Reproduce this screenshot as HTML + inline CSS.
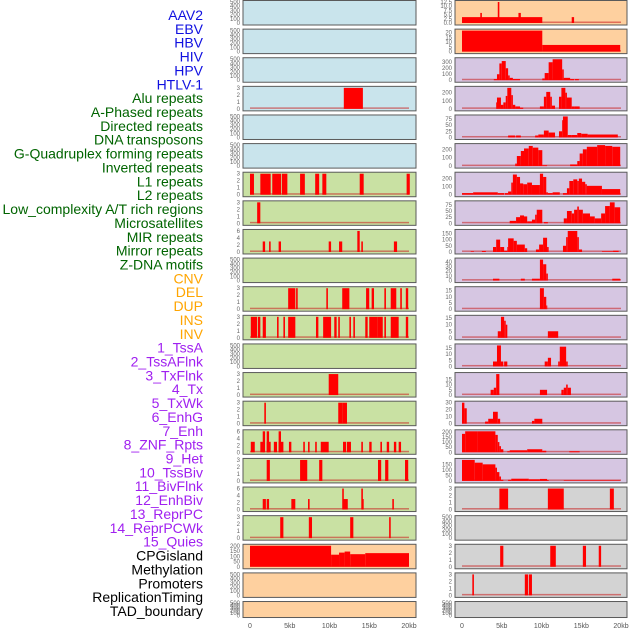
<!DOCTYPE html>
<html><head><meta charset="utf-8"><style>
body{margin:0;background:#fff;width:630px;height:630px;overflow:hidden;font-family:"Liberation Sans",sans-serif}
svg{position:absolute;left:0;top:0}
</style></head><body>
<svg id="chart" width="630" height="630" viewBox="0 0 630 630" xmlns="http://www.w3.org/2000/svg"></svg>
<script>
const trackLabels = ["AAV2","EBV","HBV","HIV","HPV","HTLV-1","Alu repeats","A-Phased repeats","Directed repeats","DNA transposons","G-Quadruplex forming repeats","Inverted repeats","L1 repeats","L2 repeats","Low_complexity A/T rich regions","Microsatellites","MIR repeats","Mirror repeats","Z-DNA motifs","CNV","DEL","DUP","INS","INV","1_TssA","2_TssAFlnk","3_TxFlnk","4_Tx","5_TxWk","6_EnhG","7_Enh","8_ZNF_Rpts","9_Het","10_TssBiv","11_BivFlnk","12_EnhBiv","13_ReprPC","14_ReprPCWk","15_Quies","CPGisland","Methylation","Promoters","ReplicationTiming","TAD_boundary"];
const labelGroups = [6,13,5,15,5];
const groupColors = ["#1010e0","#006400","#ffa500","#a020f0","#000000"];
const xTickValues = [0,5,10,15,20];
const xTickLabels = ["0","5kb","10kb","15kb","20kb"];
const leftBg = ["b","b","b","b","b","b","g","g","g","g","g","g","g","g","g","g","g","g","g","p","p","p"];
const rightBg = ["p","p","l","l","l","l","l","l","l","l","l","l","l","l","l","l","l","r","r","r","r","r"];
const T500 = [0,100,200,300,400,500], T3 = [0,1,2,3], T6 = [0,2,4,6];
const leftTicks = [T500,T500,T500,T3,T500,T500,T3,T3,T6,T500,T3,T3,T500,T3,T3,T6,T3,T6,T3,[0,50,100,150,200],T500,T500];
const rightTicks = [[0,2.5,5,7.5,10,12.5],[0,5,10,15,20],[0,100,200,300],[0,100,200],[0,25,50,75],[0,100,200],[0,100,200],[0,25,50,75],[0,50,100,150],[0,10,20,30,40],[0,5,10,15],[0,5,10,15],[0,5,10,15],[0,5,10,15],[0,10,20,30],[0,50,100,150,200],[0,50,100,150],T3,T500,T3,T3,T500];
// segments: [startKb, endKb, value]
const leftSeries = [
 [],[],[],
 [[11.8,14.2,3]],
 [],[],
 [[0,0.5,3],[1.3,2.6,3],[2.8,3.9,3],[4.0,4.7,3],[6.3,6.9,3],[8.2,8.7,3],[9.1,9.6,3],[13.8,14.3,3],[19.7,20.1,3]],
 [[0.9,1.3,3]],
 [[1.6,1.9,3],[2.4,2.6,3],[3.6,3.9,3],[9.9,10.2,3],[11.2,11.6,3],[13.5,13.8,6],[14.0,14.2,3],[18.1,18.5,3]],
 [],
 [[4.8,5.7,3],[5.8,6.0,3],[9.6,9.8,3],[11.6,12.5,3],[14.6,15.0,3],[15.3,15.6,3],[16.9,17.1,3],[17.7,18.4,3],[18.9,19.1,3],[19.6,19.9,3]],
 [[0.1,0.9,3],[1.0,1.3,3],[1.6,2.0,3],[3.4,3.6,3],[4.2,4.4,3],[4.8,5.7,3],[8.3,8.6,3],[9.2,10.2,3],[10.6,10.9,3],[11.1,11.3,3],[12.5,12.7,3],[13.0,13.2,3],[14.5,14.8,3],[15.0,16.0,3],[16.0,16.7,3],[16.9,17.1,3],[17.7,18.7,3],[19.6,19.9,3]],
 [],
 [[9.9,11.1,3]],
 [[1.8,2.0,3],[11.1,11.6,3],[11.6,12.2,3]],
 [[0.1,0.6,3],[1.3,1.8,3],[1.6,1.9,6],[2.1,2.6,3],[2.1,2.4,6],[3.0,3.4,3],[3.6,4.2,3],[3.6,3.9,6],[4.9,5.2,3],[6.7,6.9,3],[7.3,7.5,3],[8.2,8.4,3],[8.9,9.9,3],[11.7,12.1,3],[12.2,12.7,3],[14.0,14.2,3],[15.0,15.3,3],[16.4,16.6,3],[17.2,17.5,3],[18.1,18.4,3],[18.7,19.0,3]],
 [[2.1,2.5,3],[6.3,7.2,3],[8.7,9.1,3],[16.1,16.5,3],[17.0,17.4,3],[19.5,19.9,3]],
 [[1.6,2.0,3],[2.1,2.4,3],[5.2,5.7,3],[7.3,7.5,3],[11.7,12.3,3],[11.6,11.8,6],[14.1,14.3,3],[14.0,14.2,6],[17.9,18.1,3]],
 [[3.8,4.2,3],[7.4,7.8,3],[12.6,13.0,3],[17.5,17.7,3]],
 [[0,10.2,200],[10.2,11.2,115],[11.2,11.9,135],[11.9,12.6,145],[12.6,14.5,120],[14.5,20,130]],
 [],[]
];
const rightSeries = [
 [[0,10.1,3.5],[2.3,2.5,6],[4.5,4.7,12.5],[7.1,7.4,6],[13.8,14.1,3.5]],
 [[0,10.1,22],[10.1,19.9,7]],
 [[4.0,4.4,20],[4.4,4.7,100],[4.7,5.0,280],[5.0,5.5,320],[5.5,5.8,200],[5.8,6.0,80],[6.0,6.4,40],[6.4,7.3,20],[10.1,10.4,30],[10.4,10.9,120],[10.9,11.4,300],[11.4,12.6,350],[12.6,12.8,180],[12.8,13.6,40],[13.6,14.1,20],[14.2,14.7,20]],
 [[4.3,4.4,80],[4.4,4.9,140],[4.9,5.2,50],[5.2,5.5,80],[5.5,5.7,160],[5.7,6.2,260],[6.2,6.4,170],[6.4,6.7,50],[6.7,7.3,30],[7.3,7.7,15],[9.8,10.3,30],[10.3,10.6,150],[10.6,11.1,210],[11.1,11.3,150],[11.3,11.7,40],[12.2,12.5,150],[12.5,13.0,260],[13.0,13.2,200],[13.2,13.8,140],[13.8,14.2,30],[14.2,14.8,30]],
 [[5.8,6.7,8],[6.8,7.4,8],[9.2,9.6,8],[9.6,10.3,12],[10.3,10.9,28],[10.9,11.7,20],[12.2,12.6,25],[12.6,12.7,70],[12.7,13.3,85],[13.3,13.8,10],[13.8,14.5,10],[14.5,15.0,18],[15.0,15.8,15],[15.8,19.6,12]],
 [[6.7,6.9,30],[6.9,7.4,120],[7.4,7.8,180],[7.8,8.4,210],[8.4,8.9,240],[8.9,9.6,220],[9.6,10.1,190],[10.1,10.7,10],[13.6,14.5,20],[14.5,14.8,60],[14.8,15.2,150],[15.2,15.7,200],[15.7,17.0,230],[17.0,18.0,250],[18.0,18.9,240],[18.9,19.9,230]],
 [[0,1.4,20],[1.4,4.5,30],[4.5,5.3,20],[5.4,5.8,20],[5.8,6.2,40],[6.2,6.4,150],[6.4,6.9,250],[6.9,7.3,220],[7.3,7.7,140],[7.7,8.2,130],[8.2,8.8,150],[8.8,9.8,120],[9.8,10.2,260],[10.2,10.6,220],[10.6,10.8,30],[10.8,11.4,20],[11.4,12.3,30],[12.7,13.2,20],[13.2,13.5,80],[13.5,14.0,170],[14.0,14.5,190],[14.5,14.7,170],[14.7,15.1,200],[15.1,15.5,160],[15.5,15.7,130],[15.7,17.6,110],[17.6,19.9,70]],
 [[6.0,6.8,10],[6.8,7.3,25],[7.3,7.8,32],[7.8,8.2,28],[8.2,8.8,8],[8.8,9.2,15],[9.2,9.4,35],[9.4,10.1,55],[10.3,10.8,5],[12.8,13.2,20],[13.2,13.8,50],[13.8,14.1,40],[14.1,14.5,55],[14.5,14.7,68],[14.7,15.2,55],[15.2,16.1,40],[16.1,16.7,28],[16.7,17.5,20],[17.5,18.0,40],[18.0,18.6,70],[18.6,19.2,85],[19.2,19.9,65]],
 [[1.1,1.5,5],[2.5,3.0,8],[3.9,4.3,40],[4.3,4.8,100],[4.8,5.3,40],[5.3,5.7,10],[5.7,5.8,40],[5.8,6.5,110],[6.5,6.9,90],[6.9,7.9,60],[7.9,8.2,30],[9.3,9.7,20],[9.7,10.2,60],[10.2,10.7,115],[10.7,10.9,40],[12.7,13.1,50],[13.1,13.3,120],[13.3,14.5,170],[14.5,14.7,120],[14.7,15.1,20],[17.6,19.0,5],[19.0,19.7,10]],
 [[3.9,4.7,4],[7.4,7.9,4],[8.8,9.8,4],[9.8,10.2,45],[10.2,10.6,35],[10.6,10.8,15],[18.9,19.9,4]],
 [[9.8,10.3,17],[10.3,10.6,10],[10.6,10.7,3]],
 [[4.5,4.9,5],[4.9,5.3,16],[5.3,5.5,13],[5.5,5.7,10],[10.8,12.1,5]],
 [[3.9,4.4,4],[4.4,4.9,17],[4.9,5.2,4],[5.3,5.7,4],[10.4,10.8,4],[10.8,11.2,7],[12.1,12.3,4],[12.3,13.1,16],[13.1,13.3,4]],
 [[3.6,4.0,5],[4.0,4.3,7],[4.3,4.7,20],[9.8,10.7,5],[12.5,12.8,5],[12.8,13.1,7],[13.1,13.3,10],[13.3,13.7,7]],
 [[0,0.3,30],[0.3,0.6,22],[2.9,3.3,3],[3.3,3.9,7],[3.9,4.5,17],[4.5,4.8,7],[8.8,9.1,4],[9.1,10.1,7]],
 [[0,0.4,180],[0.4,1.9,205],[1.9,4.2,205],[4.2,4.5,170],[4.5,4.7,100],[4.7,4.9,60],[4.9,5.2,30],[5.7,6.0,10],[6.0,8.2,20],[8.2,10.1,30],[10.1,10.6,15],[13.5,14.8,10]],
 [[0,1.6,190],[1.6,2.6,165],[2.6,4.2,150],[4.2,4.4,120],[4.4,4.7,80],[4.7,4.9,40],[4.9,5.2,10],[5.8,6.2,10],[6.2,8.4,20],[8.4,9.8,15],[9.8,10.7,18],[10.7,10.9,8],[12.8,19.9,5]],
 [[4.7,5.8,3],[10.8,12.8,3],[18.6,19.1,3]],
 [],
 [[4.8,5.2,3],[11.1,11.8,3],[15.2,15.6,3],[17.2,17.5,3]],
 [[1.3,1.5,3],[7.9,8.3,3],[8.4,8.8,3]],
 []
];
const NS = "http://www.w3.org/2000/svg";
const svg = document.getElementById("chart");
const bgColors = {b:"#c9e4ec",g:"#c9e1a3",p:"#fed09f",l:"#d6c6e2",r:"#d3d3d3"};
const cols = [{x0:243,x1:416,z:250,name:"left"},{x0:455,x1:627,z:462,name:"right"}];
const KB = 7.95, PITCH = 28.62, PH = 24.5;
function mk(tag, attrs){const e=document.createElementNS(NS,tag);for(const k in attrs)e.setAttribute(k,attrs[k]);svg.appendChild(e);return e;}
function xScale(col, kb){return col.z + kb*KB;}
function fmt(v, ticks){return ticks.some(t=>t%1!==0)?v.toFixed(1):String(v);}

// labels
let li = 0;
labelGroups.forEach((n,g)=>{
  for(let k=0;k<n;k++){
    const t = mk("text",{x:203,y:(15+li*13.86+5).toFixed(1),"text-anchor":"end","font-size":"14",fill:groupColors[g]});
    t.textContent = trackLabels[li];
    
    
    li++;
  }
});

[leftSeries, rightSeries].forEach((series, ci)=>{
  const col = cols[ci];
  const bgs = ci===0?leftBg:rightBg;
  const ticksArr = ci===0?leftTicks:rightTicks;
  series.forEach((segs, r)=>{
    const top = r*PITCH;
    const h = r===21 ? 16 : PH;
    const g = document.createElementNS(NS,"g"); svg.appendChild(g);
    
    
    const rect = document.createElementNS(NS,"rect");
    rect.setAttribute("x",col.x0);rect.setAttribute("y",top+0.5);rect.setAttribute("width",col.x1-col.x0);rect.setAttribute("height",h);
    rect.setAttribute("fill",bgColors[bgs[r]]);rect.setAttribute("stroke","#5a5a5a");rect.setAttribute("stroke-width","1");
    
    
    g.appendChild(rect);
    const ticks = ticksArr[r];
    let dmax = 0; segs.forEach(s=>{if(s[2]>dmax)dmax=s[2];});
    const ymax = Math.max(dmax, ticks[ticks.length-1]);
    const yb = top + h - 1.5, yt = top + 2;
    const yScale = v => yb - (v/ymax)*(yb-yt);
    ticks.forEach(tv=>{
      const t = document.createElementNS(NS,"text");
      t.setAttribute("x",col.x0-3);t.setAttribute("y",(yScale(tv)+2).toFixed(1));
      t.setAttribute("text-anchor","end");t.setAttribute("font-size","6");t.setAttribute("fill","#666");
      t.textContent = fmt(tv, ticks);
      
      
      g.appendChild(t);
    });
    if(segs.length){
      const bl = document.createElementNS(NS,"rect");
      bl.setAttribute("x",xScale(col,0));bl.setAttribute("y",yb-1.5);bl.setAttribute("width",20*KB);bl.setAttribute("height",1.5);
      bl.setAttribute("fill","rgba(200,30,30,0.55)");
      
      
      g.appendChild(bl);
    }
    segs.forEach(s=>{
      const b = document.createElementNS(NS,"rect");
      const x1 = xScale(col,s[0]), x2 = xScale(col,s[1]);
      const y = yScale(s[2]);
      b.setAttribute("x",x1.toFixed(2));b.setAttribute("y",y.toFixed(2));
      b.setAttribute("width",Math.max(1,x2-x1).toFixed(2));b.setAttribute("height",(yb-y).toFixed(2));
      b.setAttribute("fill","#ff0000");
      
      
      g.appendChild(b);
    });
  });
  xTickValues.forEach((v,i)=>{
    const t = mk("text",{x:xScale(col,v).toFixed(1),y:628,"text-anchor":"middle","font-size":"7",fill:"#555"});
    t.textContent = xTickLabels[i];
    
    
  });
});
</script>
</body></html>
